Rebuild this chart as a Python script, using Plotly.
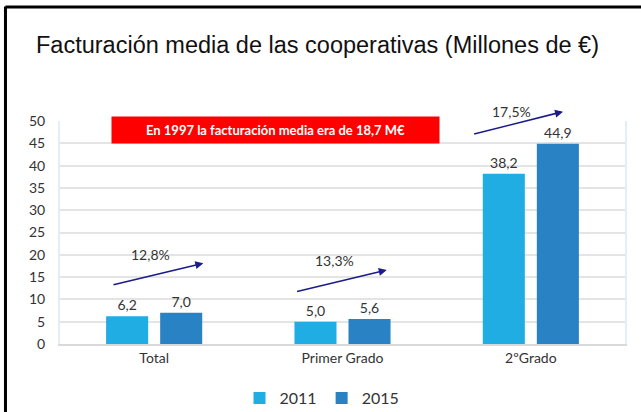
import plotly.graph_objects as go

# Data
categories = ["Total", "Primer Grado", "2ºGrado"]
values_2011 = [6.2, 5.0, 38.2]
values_2015 = [7.0, 5.6, 44.9]
growth_labels = ["12,8%", "13,3%", "17,5%"]
note_text = "En 1997 la facturación media era de 18,7 M€"

color_2011 = "#1FADE3"
color_2015 = "#2882C4"
arrow_color = "#1B1B8A"
text_color = "#333333"
label_font = "Lato"

fig = go.Figure()

fig.add_trace(go.Bar(
    x=categories, y=values_2011, name="2011",
    marker=dict(color=color_2011, line=dict(width=0)),
    text=values_2011, texttemplate="%{y:.1f}", textposition="outside",
    textfont=dict(family=label_font, size=14, color=text_color),
    cliponaxis=False,
))
fig.add_trace(go.Bar(
    x=categories, y=values_2015, name="2015",
    marker=dict(color=color_2015, line=dict(width=0)),
    text=values_2015, texttemplate="%{y:.1f}", textposition="outside",
    textfont=dict(family=label_font, size=14, color=text_color),
    cliponaxis=False,
))

# growth arrows in data units: (tail x offset, tail y, head x offset, head y)
arrow_geom = [
    (-0.224, 13.2, 0.261, 18.1),
    (-0.249, 11.7, 0.235, 16.6),
    (-0.309, 47.0, 0.171, 52.1),
]
# growth label positions: (x offset, y in paper units)
label_geom = [
    (-0.017, (344 - 254) / 223),
    (-0.040, (344 - 260) / 223),
    (-0.101, (344 - 100.7) / 223),
]

annotations = []
for i, (lbl, g, lg) in enumerate(zip(growth_labels, arrow_geom, label_geom)):
    tx, ty, hx, hy = g
    annotations.append(dict(
        x=i + hx, y=hy, ax=i + tx, ay=ty, xref="x", yref="y", axref="x", ayref="y",
        text="", showarrow=True, arrowhead=2, arrowsize=1, arrowwidth=1.6,
        arrowcolor=arrow_color,
    ))
    annotations.append(dict(
        x=i + lg[0], y=lg[1], xref="x", yref="paper", text=lbl, showarrow=False,
        font=dict(family=label_font, size=14, color=text_color),
    ))

annotations.append(dict(
    x=0.381, y=48.0, xref="paper", yref="y", text="<b>" + note_text + "</b>",
    showarrow=False, bgcolor="#FF0000", width=323, height=22, borderpad=2,
    font=dict(family=label_font, size=13, color="white"),
))

fig.update_layout(
    width=641, height=412,
    margin=dict(l=60, r=16, t=121, b=68, autoexpand=False),
    paper_bgcolor="white", plot_bgcolor="white",
    separators=",.",
    barmode="group", bargap=0.426, bargroupgap=0.222,
    title=dict(
        text="Facturación media de las cooperativas (Millones de €)",
        x=317.5 / 641, xref="container", xanchor="center",
        y=1 - 45 / 412, yref="container", yanchor="middle",
        font=dict(family="Liberation Sans", size=23.5, color="#111111"),
    ),
    legend=dict(
        orientation="h", x=(322 - 60) / 565, xanchor="center",
        y=(344 - 398) / 223, yanchor="middle",
        font=dict(family=label_font, size=16, color=text_color),
        traceorder="normal", itemwidth=30, tracegroupgap=0,
    ),
    showlegend=True,
    annotations=annotations,
    shapes=[
        dict(type="line", xref="paper", yref="paper", x0=-0.0965, x1=-0.0965,
             y0=-0.4, y1=1.513, line=dict(color="black", width=3)),
        dict(type="line", xref="paper", yref="paper", x0=-0.0965, x1=1.1,
             y0=1.511, y1=1.511, line=dict(color="black", width=3)),
    ],
)

fig.update_xaxes(
    showline=True, linecolor="#D9D9D9", linewidth=2, mirror=False,
    tickfont=dict(family=label_font, size=14, color=text_color),
    ticks="", showgrid=False,
)
fig.update_yaxes(
    range=[0, 50], dtick=5, showgrid=True, gridcolor="#E4E4E4", gridwidth=2,
    showline=True, linecolor="#E3EEF7", linewidth=2, mirror=True,
    zeroline=False, ticks="", ticklabelstandoff=10,
    tickfont=dict(family=label_font, size=14, color=text_color),
)

# drop the browser's default body margin so the figure sits at the page corner
fig.write_html(
    "out.html",
    config={"displayModeBar": False},
    post_script="document.body.style.margin='0';",
)
